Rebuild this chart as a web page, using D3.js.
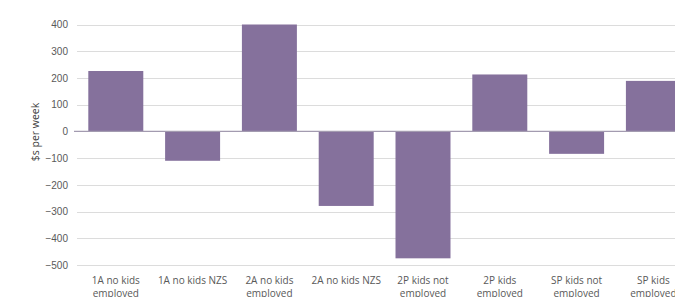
<!DOCTYPE html>
<html><head><meta charset="utf-8">
<script src="https://cdn.jsdelivr.net/npm/d3@7"></script>
<style>body{margin:0;background:#fff;}svg{display:block;font-family:"Open Sans","Liberation Sans",sans-serif;}</style>
</head><body><svg id="c" width="675" height="297"></svg>
<script>
const categories = [["1A no kids","employed"],["1A no kids NZS"],["2A no kids","employed"],["2A no kids NZS"],["2P kids not","employed"],["2P kids","employed"],["SP kids not","employed"],["SP kids","employed"]];
const values = [226, -110, 400, -279, -475, 213, -84, 189];
const yTicks = [400,300,200,100,0,-100,-200,-300,-400,-500];
const yTitle = "$s per week";

const svg = d3.select("#c");
const y = d3.scaleLinear().domain([-500,400]).range([265,24.5]);
const x = d3.scaleBand().domain(d3.range(categories.length)).range([77.4,691.8]).paddingInner(0.284).paddingOuter(0.142);

// gridlines
svg.append("g").selectAll("line").data(yTicks.filter(d=>d!==0)).join("line")
  .attr("x1",77).attr("x2",675).attr("y1",d=>Math.round(y(d))+0.5).attr("y2",d=>Math.round(y(d))+0.5)
  .attr("stroke","#dcdcdc").attr("stroke-width",1);

// tick labels
const yAxis = d3.axisLeft(y).tickValues(yTicks).tickSize(0).tickPadding(0);
const ga = svg.append("g").attr("transform","translate(68,0)").call(yAxis);
ga.select(".domain").remove();
ga.selectAll("text").attr("fill","#595959").style("font-size","10px");

// bars
svg.append("g").selectAll("rect").data(values).join("rect")
  .attr("x",(d,i)=>x(i)).attr("width",x.bandwidth())
  .attr("y",d=>y(Math.max(0,d))).attr("height",d=>Math.abs(y(d)-y(0)))
  .attr("fill","#85719c");

// zero line
svg.append("line").attr("x1",74).attr("x2",675).attr("y1",y(0)).attr("y2",y(0))
  .attr("stroke","#a39bb0").attr("stroke-width",1.2);

// category labels
const cl = svg.append("g").selectAll("text").data(categories).join("text")
  .attr("x",(d,i)=>x(i)+x.bandwidth()/2).attr("y",284)
  .attr("text-anchor","middle").attr("fill","#595959").style("font-size","10px");
cl.each(function(d){
  const t = d3.select(this);
  d.forEach((s,k)=>t.append("tspan").attr("x",t.attr("x")).attr("dy",k===0?0:12.5).text(s));
});

// y title
svg.append("text").attr("transform","translate(39,132) rotate(-90)")
  .attr("text-anchor","middle").attr("fill","#404040").style("font-size","10.5px").text(yTitle);
</script></body></html>
